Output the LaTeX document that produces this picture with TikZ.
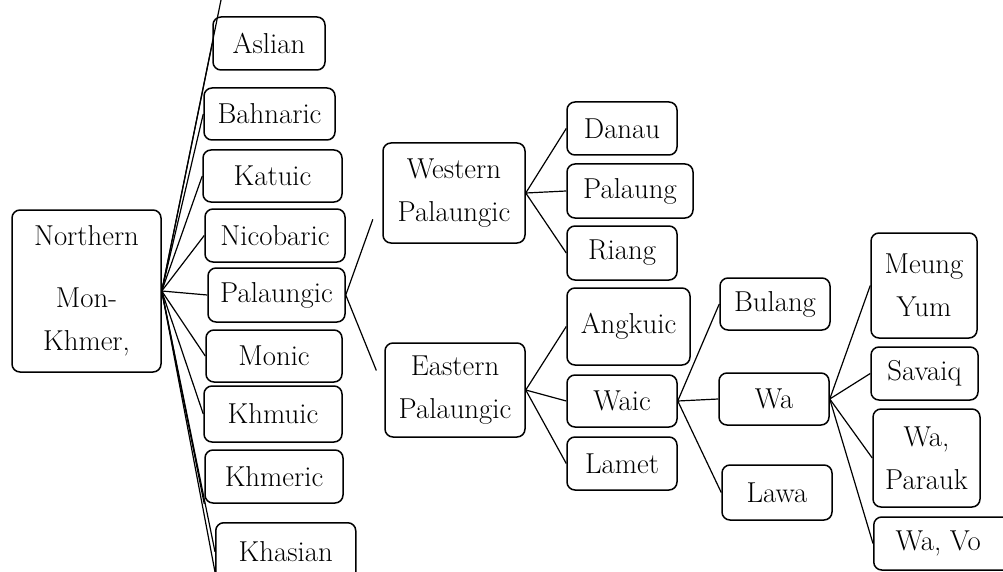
\documentclass[tikz,border=0pt]{standalone}
\usetikzlibrary{calc}
\newcommand\mybox[6]{\node[box,minimum width=#4pt,minimum height=#5pt] (#1) at (#2,#3) {#6};}
\begin{document}
\begin{tikzpicture}[x=1pt,y=-1pt,
  box/.style={draw, rounded corners=8pt, line width=1.5pt, inner sep=0pt, align=center,
    font=\fontsize{28.8}{43}\selectfont},
  link/.style={line width=1.2pt}]
\useasboundingbox (0,0) rectangle (1003,572);
\clip (0,0) rectangle (1003,572);
% root
\mybox{nmk}{86.5}{291}{149}{162}{Northern\\[19pt]Mon-\\Khmer,}
% column 2
\mybox{aslian}{269}{43.5}{112}{53}{Aslian}
\mybox{bahnaric}{269.5}{114}{131}{52}{Bahnaric}
\mybox{katuic}{272.5}{176}{139}{52}{Katuic}
\mybox{nicobaric}{275}{235.5}{140}{53}{Nicobaric}
\mybox{palaungic}{276.5}{295}{137}{54}{Palaungic}
\mybox{monic}{274}{356}{136}{52}{Monic}
\mybox{khmuic}{273}{414}{138}{56}{Khmuic}
\mybox{khmeric}{274}{476.5}{138}{53}{Khmeric}
\node[box,minimum width=140pt,minimum height=58pt,anchor=north west] (khasian) at (215,522) {Khasian};
% column 3
\mybox{wpal}{454}{193}{142}{100}{Western\\Palaungic}
\mybox{epal}{455}{390}{140}{94}{Eastern\\Palaungic}
% column 4
\mybox{danau}{622}{128.5}{110}{53}{Danau}
\mybox{palaung}{630}{191}{126}{54}{Palaung}
\mybox{riang}{622}{253}{110}{54}{Riang}
\mybox{angkuic}{628.5}{326.5}{123}{77}{Angkuic}
\mybox{waic}{622}{401}{110}{52}{Waic}
\mybox{lamet}{622}{463.5}{110}{53}{Lamet}
% column 5
\mybox{bulang}{775}{304}{110}{52}{Bulang}
\mybox{wa}{774}{399}{110}{52}{Wa}
\mybox{lawa}{777}{492.5}{110}{55}{Lawa}
% column 6
\mybox{meung}{924}{285.5}{106}{105}{Meung\\Yum}
\mybox{savaiq}{924.5}{373.5}{107}{53}{Savaiq}
\mybox{parauk}{926.5}{458}{107}{98}{Wa,\\Parauk}
\node[box,minimum width=140pt,minimum height=53pt,anchor=west] (wavo) at (873,543.5) {\hspace*{-11pt}Wa, Vo};
% free ends
\coordinate (topend) at (221,0);
\coordinate (botend) at (215,572);
% connectors from root
\foreach \t in {topend,aslian.west,bahnaric.west,katuic.west,nicobaric.west,palaungic.west,monic.west,khmuic.west,khmeric.south west,khasian.west,botend}
  \draw[link] (nmk.east) -- (\t);
% Palaungic split
\draw[link,shorten >=28pt] (palaungic.east) -- (wpal.west);
\draw[link,shorten >=21pt] (palaungic.east) -- (epal.west);
% Western
\foreach \t in {danau,palaung,riang}
  \draw[link] (wpal.east) -- (\t.west);
% Eastern
\foreach \t in {angkuic,waic,lamet}
  \draw[link] (epal.east) -- (\t.west);
% Waic
\foreach \t in {bulang,wa,lawa}
  \draw[link] (waic.east) -- (\t.west);
% Wa
\foreach \t in {meung,savaiq,parauk,wavo}
  \draw[link] (wa.east) -- (\t.west);
\end{tikzpicture}
\end{document}
